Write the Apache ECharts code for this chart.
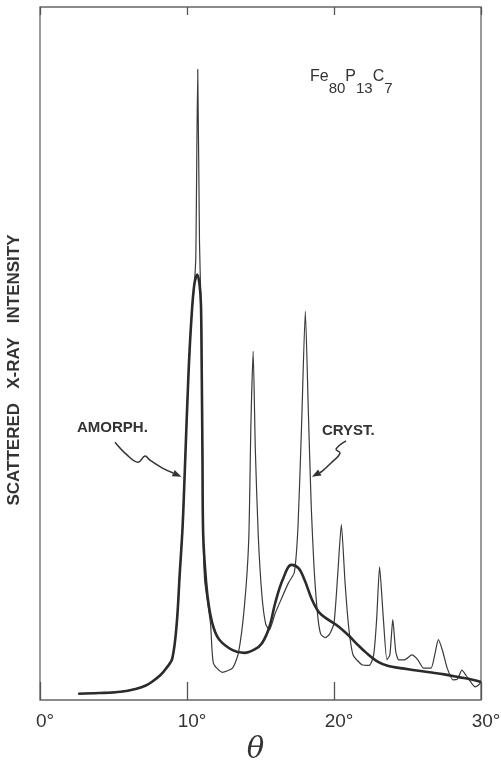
<!DOCTYPE html>
<html lang="en">
  <head>
    <meta charset="UTF-8" />
    <title>Fe80P13C7 scattered X-ray intensity</title>
    <script src="https://cdn.jsdelivr.net/npm/echarts@6/dist/echarts.min.js"></script>
    <style>
      html, body { margin: 0; padding: 0; background: #fff; }
      #chart { width: 501px; height: 762px; }
    </style>
  </head>
  <body>
    <div id="chart"></div>
    <script>
      // x axis ticks (degrees)
      const thetaTicks = [0, 10, 20, 30];

      // amorphous sample (thick line)
      const amorphTheta = [2.6, 4.0, 5.5, 6.5, 7.2, 7.6, 8.2, 8.6, 9.0, 9.3, 9.5, 9.7, 9.85, 10.1, 10.3, 10.5, 10.7, 10.85, 10.95, 11.0, 11.05, 11.1, 11.3, 11.5, 11.8, 12.2, 13.1, 13.9, 14.6, 15.1, 15.6, 16.0, 16.5, 17.1, 17.6, 18.0, 18.5, 19.0, 19.6, 20.3, 21.0, 21.6, 22.2, 23.0, 23.7, 24.5, 25.5, 26.5, 27.5, 28.5, 29.5, 30.0];
      const amorphI = [0.9, 1.0, 1.2, 1.6, 2.1, 2.6, 3.6, 4.6, 6.0, 11, 18, 25, 33, 47, 55, 60, 61.4, 60, 57, 48, 36, 24, 17, 13.4, 10.5, 8.7, 7.2, 6.8, 7.3, 8.2, 10.5, 14, 17.3, 19.5, 19, 17.3, 14.5, 12.6, 11.6, 10.6, 9.3, 8.0, 6.8, 5.5, 4.9, 4.6, 4.3, 4.0, 3.7, 3.3, 2.9, 2.6];

      // crystallized sample (thin line)
      const crystTheta = [2.6, 4.0, 5.5, 6.5, 7.2, 7.6, 8.2, 8.6, 9.0, 9.3, 9.5, 9.7, 9.85, 10.1, 10.3, 10.5, 10.6, 10.73, 10.85, 10.95, 11.0, 11.05, 11.1, 11.2, 11.6, 11.8, 12.4, 13.1, 13.5, 13.9, 14.2, 14.35, 14.5, 14.65, 14.85, 15.1, 15.35, 15.6, 16.0, 16.4, 16.9, 17.3, 17.55, 17.8, 18.05, 18.25, 18.45, 18.65, 18.9, 19.1, 19.4, 19.7, 20.0, 20.25, 20.5, 20.75, 21.0, 21.3, 21.9, 22.4, 22.7, 22.9, 23.1, 23.35, 23.6, 23.8, 24.0, 24.2, 24.4, 24.8, 25.3, 25.7, 26.1, 26.6, 26.85, 27.1, 27.4, 27.7, 28.1, 28.4, 28.7, 29.0, 29.3, 29.6, 29.85, 30.0];
      const crystI = [0.9, 1.0, 1.2, 1.6, 2.1, 2.6, 3.6, 4.6, 6.0, 11, 18, 25, 33, 47, 55, 60, 64, 91, 66, 57, 48, 36, 24, 17.3, 11, 5.3, 4.0, 4.6, 6.8, 13.4, 23.1, 40, 50.3, 36, 23.6, 15, 11, 10.1, 12.5, 14.5, 16.9, 18.4, 25, 40, 56.1, 42, 28, 18.8, 12, 9.5, 9.0, 9.5, 11.1, 18, 25.3, 17, 10.5, 6.5, 5.1, 5.0, 6.5, 11.6, 19.2, 12, 5.8, 6.5, 11.6, 7.0, 5.8, 5.8, 6.5, 5.8, 4.6, 4.6, 6.5, 8.7, 7.0, 4.6, 2.9, 3.0, 4.3, 3.5, 2.6, 1.9, 2.2, 2.6];

      // annotation arrows, in data coordinates (theta, intensity)
      const amorphArrow = [[5.1, 37.2], [5.9, 35.4], [6.67, 34.3], [7.14, 35.2], [7.48, 34.6], [8.3, 33.5], [9.62, 32.2]];
      const crystArrow = [[20.82, 37.4], [20.14, 36.2], [20.41, 35.6], [19.8, 34.2], [19.18, 33.0], [18.5, 32.2]];

      const lineColor = "#2b2b2b";
      const labelFont = "'Liberation Sans', sans-serif";

      const chart = echarts.init(document.getElementById("chart"));

      const option = {
        animation: false,
        backgroundColor: "#fff",
        grid: {
          left: 40,
          right: 20,
          top: 7,
          bottom: 62,
          outerBoundsMode: "none",
          show: true,
          borderColor: "#666",
          borderWidth: 1.3,
        },
        xAxis: [
          {
            type: "value",
            min: thetaTicks[0],
            max: thetaTicks[thetaTicks.length - 1],
            interval: 10,
            position: "bottom",
            axisLine: { show: false },
            axisTick: { show: true, inside: true, length: 18, lineStyle: { color: "#555", width: 1.3 } },
            splitLine: { show: false },
            axisLabel: {
              margin: 12,
              fontSize: 19,
              color: "#333",
              fontFamily: labelFont,
              padding: [0, 0, 0, 10],
              formatter: (v) => v + "°",
            },
            name: "θ",
            nameLocation: "middle",
            nameGap: 27,
            nameTextStyle: {
              fontSize: 29,
              fontStyle: "italic",
              fontFamily: "'DejaVu Serif', serif",
              color: "#333",
              padding: [0, 10, 0, 0],
            },
          },
          {
            type: "value",
            min: thetaTicks[0],
            max: thetaTicks[thetaTicks.length - 1],
            interval: 10,
            position: "top",
            axisLine: { show: false },
            axisTick: { show: true, inside: true, length: 8, lineStyle: { color: "#555", width: 1.3 } },
            splitLine: { show: false },
            axisLabel: { show: false },
          },
        ],
        yAxis: {
          type: "value",
          min: 0,
          max: 100,
          axisLine: { show: false },
          axisTick: { show: false },
          axisLabel: { show: false },
          splitLine: { show: false },
        },
        series: [
          {
            name: "AMORPH.",
            type: "line",
            data: amorphTheta.map((t, i) => [t, amorphI[i]]),
            showSymbol: false,
            smooth: 0.35,
            lineStyle: { color: lineColor, width: 2.6 },
            z: 3,
          },
          {
            name: "CRYST.",
            type: "line",
            data: crystTheta.map((t, i) => [t, crystI[i]]),
            showSymbol: false,
            smooth: 0.2,
            lineStyle: { color: "#3a3a3a", width: 1.2 },
            z: 2,
          },
        ],
      };
      chart.setOption(option);

      // arrow annotations placed through the chart's own scales
      const toPx = (p) => chart.convertToPixel({ gridIndex: 0 }, p);
      const arrow = (pts) => {
        const px = pts.map(toPx);
        const a = px[px.length - 2];
        const b = px[px.length - 1];
        const ang = Math.atan2(b[1] - a[1], b[0] - a[0]);
        const L = 9, W = 3.5;
        const bx = b[0] - L * Math.cos(ang), by = b[1] - L * Math.sin(ang);
        const nx = -Math.sin(ang) * W, ny = Math.cos(ang) * W;
        return [
          {
            type: "polyline",
            shape: { points: px.slice(0, -1).concat([[bx, by]]), smooth: 0.4 },
            style: { stroke: "#333", lineWidth: 1.5, fill: null },
          },
          {
            type: "polygon",
            shape: { points: [b, [bx + nx, by + ny], [bx - nx, by - ny]] },
            style: { fill: "#333" },
          },
        ];
      };

      chart.setOption({
        graphic: [
          ...arrow(amorphArrow),
          ...arrow(crystArrow),
          {
            type: "text",
            x: 77,
            y: 428,
            style: { text: "AMORPH.", font: "bold 15px " + labelFont, fill: "#333", verticalAlign: "middle" },
          },
          {
            type: "text",
            x: 322,
            y: 431,
            style: { text: "CRYST.", font: "bold 15px " + labelFont, fill: "#333", verticalAlign: "middle" },
          },
          {
            type: "text",
            x: 14,
            y: 370,
            rotation: Math.PI / 2,
            style: {
              text: "SCATTERED   X-RAY   INTENSITY",
              font: "bold 17px " + labelFont,
              fill: "#333",
              align: "center",
              verticalAlign: "middle",
            },
          },
          {
            type: "text",
            x: 310,
            y: 69,
            style: {
              text: "{m|Fe}{s|80}{m|P}{s|13}{m|C}{s|7}",
              rich: {
                m: { fontSize: 16, fontFamily: labelFont, fill: "#333", lineHeight: 27, verticalAlign: "top" },
                s: { fontSize: 15, fontFamily: labelFont, fill: "#333", lineHeight: 27, verticalAlign: "bottom" },
              },
            },
          },
        ],
      });
    </script>
  </body>
</html>
